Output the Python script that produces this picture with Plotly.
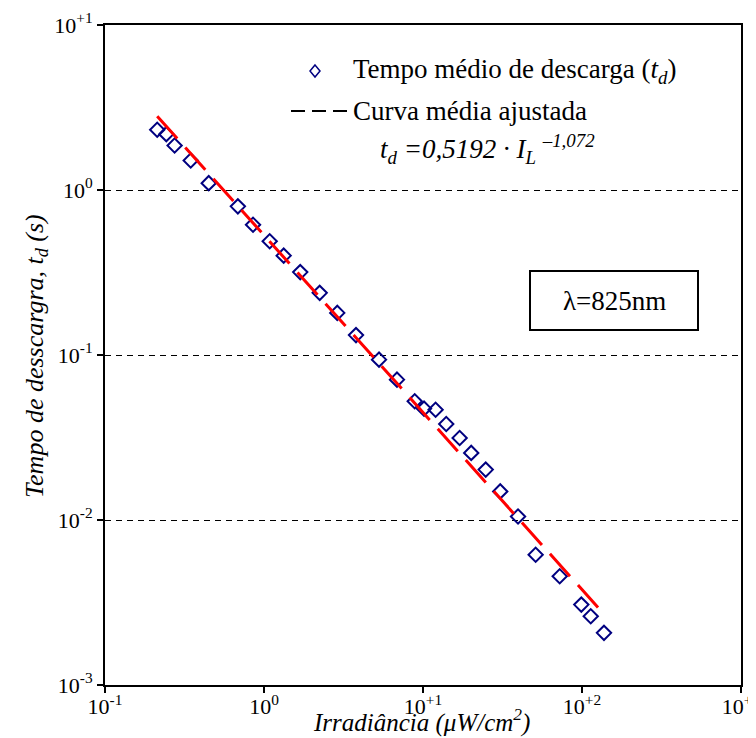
import plotly.graph_objects as go

# --- data ---
irradiance = [0.213, 0.243, 0.274, 0.346, 0.449, 0.685, 0.853, 1.086, 1.33, 1.69,
              2.24, 2.89, 3.79, 5.29, 6.86, 8.87, 10.15, 12.0, 14.0, 17.0,
              20.1, 24.8, 30.6, 39.6, 51.1, 72.4, 99.0, 113.5, 137.5]
t_discharge = [2.32, 2.18, 1.86, 1.51, 1.10, 0.796, 0.616, 0.489, 0.400, 0.318,
               0.238, 0.180, 0.132, 0.0937, 0.0709, 0.0524, 0.0473, 0.0466, 0.0382, 0.0314,
               0.0255, 0.0202, 0.0149, 0.0105, 0.00616, 0.00456, 0.00307, 0.00261, 0.00207]

fit_x = [0.213, 137.0]
fit_y = [2.80, 0.0027]

x_tickvals = [0.1, 1, 10, 100, 1000]
x_ticktext = ["10<sup>-1</sup>", "10<sup>0</sup>", "10<sup>+1</sup>", "10<sup>+2</sup>", "10<sup>+3</sup>"]
y_tickvals = [0.001, 0.01, 0.1, 1, 10]
y_ticktext = ["10<sup>-3</sup>", "10<sup>-2</sup>", "10<sup>-1</sup>", "10<sup>0</sup>", "10<sup>+1</sup>"]

FONT = "Liberation Serif"

# plot-area pixel geometry
W, H = 756, 738
L, R, T, B = 97, 23, 17, 61
PW, PH = W - L - R, H - T - B


def px(xpix):
    return (xpix - L) / PW


def py(ypix):
    return 1 - (ypix - T) / PH


fig = go.Figure()

fig.add_trace(go.Scatter(
    x=irradiance, y=t_discharge, mode="markers",
    marker=dict(symbol="diamond-open", size=11, color="#000080",
                line=dict(width=2, color="#000080")),
    showlegend=False,
))

fig.add_trace(go.Scatter(
    x=fit_x, y=fit_y, mode="lines",
    line=dict(color="#FF0000", width=3, dash="30px,12px"),
    showlegend=False,
))

shapes = []
# legend diamond
cx, cy = 307, 63
shapes.append(dict(
    type="path", xref="paper", yref="paper",
    path=f"M {px(cx)} {py(cy-6)} L {px(cx+5)} {py(cy)} L {px(cx)} {py(cy+6)} L {px(cx-5)} {py(cy)} Z",
    line=dict(color="#000080", width=1.5),
))
# legend dashed line
shapes.append(dict(
    type="line", xref="paper", yref="paper",
    x0=px(283), x1=px(343), y0=py(103), y1=py(103),
    line=dict(color="black", width=2, dash="14px,7px"),
))
# lambda box
shapes.append(dict(
    type="rect", xref="paper", yref="paper",
    x0=px(522), x1=px(690), y0=py(322), y1=py(263),
    line=dict(color="black", width=2), fillcolor="white",
))

annotations = [
    dict(xref="paper", yref="paper", x=px(343), y=py(63), xanchor="left", yanchor="middle",
         text="Tempo médio de descarga (<i>t<sub>d</sub></i>)", showarrow=False,
         font=dict(family=FONT, size=27, color="black")),
    dict(xref="paper", yref="paper", x=px(343), y=py(103), xanchor="left", yanchor="middle",
         text="Curva média ajustada", showarrow=False,
         font=dict(family=FONT, size=27, color="black")),
    dict(xref="paper", yref="paper", x=px(370), y=py(141), xanchor="left", yanchor="middle",
         text="<i>t<sub>d</sub> =0,5192 · I<sub>L</sub> <sup>–1,072</sup></i>", showarrow=False,
         font=dict(family=FONT, size=27, color="black")),
    dict(xref="paper", yref="paper", x=px(606), y=py(293), xanchor="center", yanchor="middle",
         text="λ=825nm", showarrow=False,
         font=dict(family=FONT, size=27, color="black")),
    # axis titles
    dict(xref="paper", yref="paper", x=px(413), y=py(712), xanchor="center", yanchor="middle",
         text="<i>Irradiância (μW/cm<sup>2</sup>)</i>", showarrow=False,
         font=dict(family=FONT, size=25, color="black")),
    dict(xref="paper", yref="paper", x=px(28), y=py(348), xanchor="center", yanchor="middle",
         text="<i>Tempo de desscargra, t<sub>d</sub> (s)</i>", showarrow=False, textangle=-90,
         font=dict(family=FONT, size=26, color="black")),
]

axis_common = dict(
    type="log", showline=True, linecolor="black", linewidth=2, mirror=True,
    ticks="outside", ticklen=6, tickwidth=2, tickcolor="black",
    tickfont=dict(family=FONT, size=22, color="black"),
    zeroline=False, automargin=False,
)

fig.update_layout(
    width=W, height=H,
    margin=dict(l=L, r=R, t=T, b=B),
    paper_bgcolor="white", plot_bgcolor="white",
    font=dict(family=FONT, color="black"),
    xaxis=dict(
        **axis_common, range=[-1, 3], tickvals=x_tickvals, ticktext=x_ticktext,
        showgrid=False, ticklabelstandoff=-5,
    ),
    yaxis=dict(
        **axis_common, range=[-3, 1], tickvals=y_tickvals, ticktext=y_ticktext,
        showgrid=True, gridcolor="black", gridwidth=1, griddash="6px,5px",
    ),
    shapes=shapes,
    annotations=annotations,
    showlegend=False,
)

fig.write_html("out.html")
